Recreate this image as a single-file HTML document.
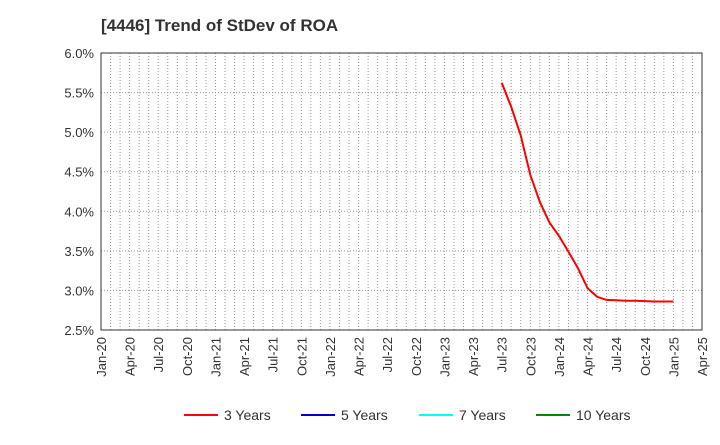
<!DOCTYPE html>
<html><head><meta charset="utf-8"><style>
body{margin:0;background:#fff;font-family:"Liberation Sans",sans-serif}
</style></head><body>
<svg id="chart" width="720" height="440" xmlns="http://www.w3.org/2000/svg" font-family="Liberation Sans, sans-serif">
<text x="101" y="31" font-size="17" font-weight="bold" fill="#333">[4446]  Trend of StDev of ROA</text>
<g id="grid"></g><g id="axes"></g><g id="series"></g>
<g font-size="14" fill="#333">
<g><line x1="184" y1="415" x2="218" y2="415" stroke="#f00" stroke-width="2"/><text x="224" y="420">3 Years</text></g>
<g><line x1="301" y1="415" x2="335" y2="415" stroke="#00c" stroke-width="2"/><text x="341" y="420">5 Years</text></g>
<g><line x1="419" y1="415" x2="453" y2="415" stroke="#0ff" stroke-width="2"/><text x="459" y="420">7 Years</text></g>
<g><line x1="536" y1="415" x2="570" y2="415" stroke="#080" stroke-width="2"/><text x="576" y="420">10 Years</text></g>
</g>
</svg>
<script>
const xTickLabels=["Jan-20","Apr-20","Jul-20","Oct-20","Jan-21","Apr-21","Jul-21","Oct-21","Jan-22","Apr-22","Jul-22","Oct-22","Jan-23","Apr-23","Jul-23","Oct-23","Jan-24","Apr-24","Jul-24","Oct-24","Jan-25","Apr-25"];
const yTicks=[2.5,3.0,3.5,4.0,4.5,5.0,5.5,6.0];
const series3StartMonth=42; // Jul-23 as month index from Jan-20
const series3Values=[5.625,5.32,4.96,4.46,4.12,3.86,3.69,3.49,3.28,3.03,2.92,2.88,2.875,2.87,2.87,2.865,2.86,2.86,2.86];
const NS="http://www.w3.org/2000/svg";
const L=101,R=702,T=53,B=330;
const xm=m=>L+(R-L)*m/63;
const y=v=>B-(v-2.5)/3.5*(B-T);
function el(tag,attrs,parent){const e=document.createElementNS(NS,tag);for(const k in attrs)e.setAttribute(k,attrs[k]);parent.appendChild(e);return e;}
const grid=document.getElementById('grid'),axes=document.getElementById('axes'),ser=document.getElementById('series');
for(let m=1;m<63;m++){const g=el('line',{x1:xm(m),x2:xm(m),y1:T,y2:B,stroke:'#999','stroke-dasharray':'1,2','stroke-width':1},grid);

}
yTicks.forEach(v=>{if(v>2.5&&v<6){const g=el('line',{x1:L,x2:R,y1:y(v),y2:y(v),stroke:'#999','stroke-dasharray':'1,2'},grid);

}
const t=el('text',{x:L-7,y:y(v)+5,'text-anchor':'end','font-size':13,fill:'#333'},axes);t.textContent=v.toFixed(1)+'%';

});
const box=el('rect',{x:L,y:T,width:R-L,height:B-T,fill:'none',stroke:'#333','stroke-width':1},axes);


xTickLabels.forEach((s,i)=>{const x=xm(i*3);const t=el('text',{transform:`translate(${x+5},${B+7}) rotate(-90)`,'text-anchor':'end','font-size':13,fill:'#333'},axes);t.textContent=s;

});
const pts=series3Values.map((v,i)=>xm(series3StartMonth+i).toFixed(1)+','+y(v).toFixed(1)).join(' ');
const p=el('polyline',{points:pts,fill:'none',stroke:'#f00','stroke-width':2,'stroke-linejoin':'round'},ser);


</script>
</body></html>
